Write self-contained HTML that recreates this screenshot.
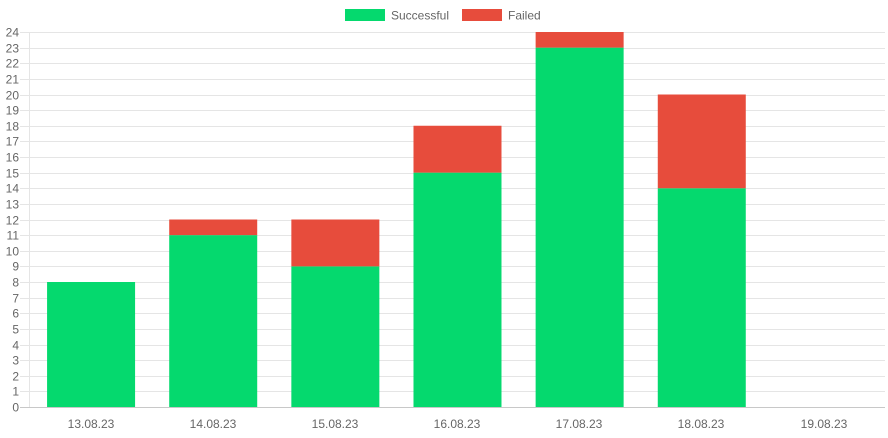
<!DOCTYPE html>
<html><head><meta charset="utf-8"><style>
html,body{margin:0;padding:0;background:#fff;}
svg{display:block;font-family:"Liberation Sans",Arial,sans-serif;}
</style></head><body>
<svg width="888" height="438" viewBox="0 0 888 438" xmlns="http://www.w3.org/2000/svg">
<g id="grid" stroke="#e5e5e5" stroke-width="1"></g>
<g id="labels" font-size="12" fill="#666" text-anchor="end"></g>
<line x1="29.5" y1="32" x2="29.5" y2="407" stroke="#e5e5e5"/>
<line x1="20" y1="407.5" x2="885" y2="407.5" stroke="#c8c8c8"/>
<g id="bars"></g>
<g font-size="12" fill="#666" text-anchor="middle">
<text x="91" y="428">13.08.23</text>
<text x="213" y="428">14.08.23</text>
<text x="335" y="428">15.08.23</text>
<text x="457" y="428">16.08.23</text>
<text x="579" y="428">17.08.23</text>
<text x="701" y="428">18.08.23</text>
<text x="824" y="428">19.08.23</text>
</g>
<rect x="345" y="9" width="40" height="12" fill="#05d96e"/>
<text x="391" y="19.5" font-size="12" fill="#666">Successful</text>
<rect x="462" y="9" width="40" height="12" fill="#e74c3c"/>
<text x="508" y="19.5" font-size="12" fill="#666">Failed</text>
<script>
(function(){
var ns="http://www.w3.org/2000/svg";
var g=document.getElementById("grid"),l=document.getElementById("labels"),b=document.getElementById("bars");
function y(v){return 407-15.625*v;}
for(var i=0;i<=24;i++){
 var yy=Math.round(y(i))+0.5;
 var ln=document.createElementNS(ns,"line");
 ln.setAttribute("x1",20);ln.setAttribute("x2",885);ln.setAttribute("y1",yy);ln.setAttribute("y2",yy);
 g.appendChild(ln);
 var t=document.createElementNS(ns,"text");
 t.setAttribute("x",19);t.setAttribute("y",yy+4);t.textContent=i;l.appendChild(t);
}
var s=[8,11,9,15,23,14,0],f=[0,1,3,3,1,6,0];
for(var k=0;k<7;k++){
 var c=30+122.14*(k+0.5),x=c-44;
 if(s[k]){var r=document.createElementNS(ns,"rect");r.setAttribute("x",x);r.setAttribute("width",88);r.setAttribute("y",y(s[k]));r.setAttribute("height",15.625*s[k]);r.setAttribute("fill","#05d96e");b.appendChild(r);}
 if(f[k]){var r2=document.createElementNS(ns,"rect");r2.setAttribute("x",x);r2.setAttribute("width",88);r2.setAttribute("y",y(s[k]+f[k]));r2.setAttribute("height",15.625*f[k]);r2.setAttribute("fill","#e74c3c");b.appendChild(r2);}
}
})();
</script>
</svg>
</body></html>
